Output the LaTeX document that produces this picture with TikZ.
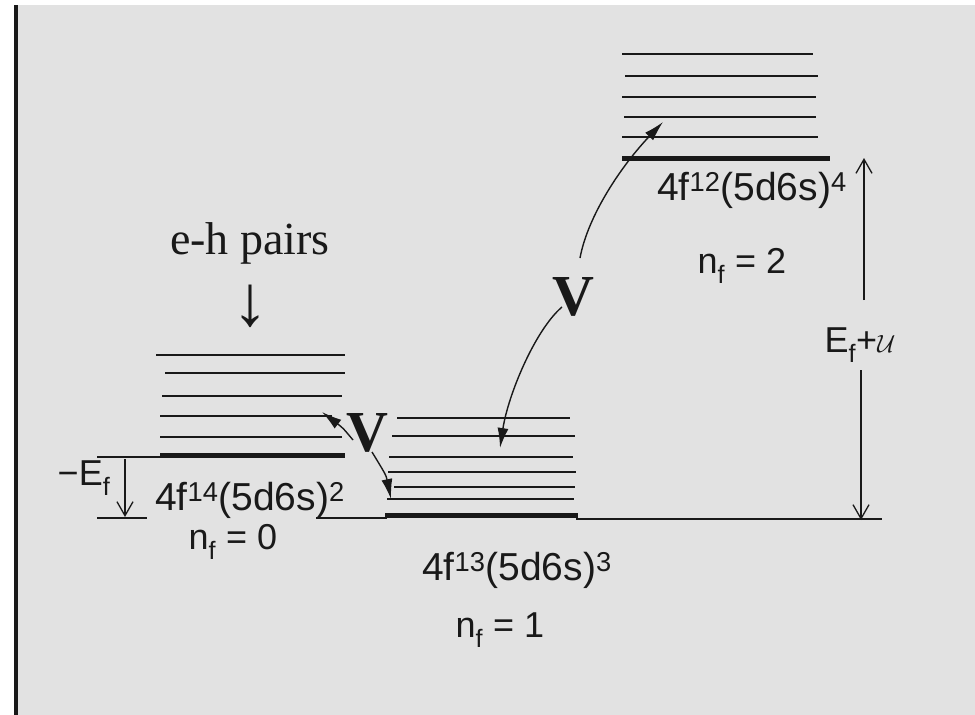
\documentclass[tikz,border=0pt]{standalone}
\usepackage{fontspec}
\setmainfont{Liberation Serif}
\newfontfamily\hand{Liberation Sans}
\usetikzlibrary{arrows.meta}
\definecolor{paper}{RGB}{226,226,226}
\definecolor{ink}{RGB}{25,25,25}
\begin{document}
\begin{tikzpicture}[x=1pt,y=-1pt,
  lvl/.style={ink, line width=1.6pt},
  gnd/.style={ink, line width=5pt},
  refline/.style={ink, line width=1.3pt},
  hw/.style={ink, font=\hand\fontsize{39}{44}\selectfont, inner sep=0pt},
  hwn/.style={ink, font=\hand\fontsize{36}{42}\selectfont, inner sep=0pt},
  vlab/.style={ink, font=\bfseries\fontsize{58}{62}\selectfont, inner sep=0pt},
  varrow/.style={ink, line width=1.4pt, -{Latex[length=20pt,width=11pt]}},
  earrow/.style={ink, line width=1.3pt, -{Straight Barb[length=14pt,width=16pt]}}
]
\useasboundingbox (0,0) rectangle (975,715);
\fill[white] (0,0) rectangle (975,715);
\fill[paper] (17,5) rectangle (975,715);
\fill[ink] (14,5) rectangle (18,715);

% left group (n_f = 0)
\foreach \y/\a/\b in {355/156/345, 373/165/345, 396/162/342, 416/160/332, 437/160/342}
  \draw[lvl] (\a,\y) -- (\b,\y);
\draw[gnd] (160,455) -- (345,455);

% middle group (n_f = 1)
\foreach \y/\a/\b in {418/397/570, 436/392/575, 457/389/573, 472/388/576, 487/394/575, 499/387/574}
  \draw[lvl] (\a,\y) -- (\b,\y);
\draw[gnd] (385,515) -- (578,515);

% right group (n_f = 2)
\foreach \y/\a/\b in {54/622/813, 76/625/818, 97/622/816, 117/624/816, 137/622/818}
  \draw[lvl] (\a,\y) -- (\b,\y);
\draw[gnd] (622,158) -- (830,158);

% reference lines
\draw[refline] (97,457) -- (162,457);
\draw[refline] (97,518) -- (147,518);
\draw[refline] (316,518) -- (387,518);
\draw[refline] (576,519) -- (882,519);

% coordinates for arrows
\coordinate (ef1) at (125,459);
\coordinate (ef2) at (125,517);
\coordinate (uup1) at (864,300);
\coordinate (uup2) at (864,158);
\coordinate (udn1) at (861,370);
\coordinate (udn2) at (861,520);
\coordinate (a1s) at (353,440);
\coordinate (a1e) at (322,412);
\coordinate (a2s) at (372,452);
\coordinate (a2e) at (391,499);
\coordinate (a3s) at (562,307);
\coordinate (a3e) at (500,448);
\coordinate (a4s) at (580,258);
\coordinate (a4e) at (663,122);

\draw[earrow] (ef1) -- (ef2);
\draw[earrow] (uup1) -- (uup2);
\draw[earrow] (udn1) -- (udn2);

\draw[varrow] (a1s) .. controls (343,428) .. (a1e);
\draw[varrow] (a2s) .. controls (386,475) .. (a2e);
\draw[varrow] (a3s) .. controls (535,330) and (508,395) .. (a3e);
\draw[varrow] (a4s) .. controls (588,215) and (622,165) .. (a4e);

% labels
\node[ink, font=\fontsize{46}{50}\selectfont, inner sep=0pt] (eh) at (250,243) {e-h pairs};
\node[ink, font=\fontsize{72}{76}\selectfont, inner sep=0pt] (ehar) at (250,306) {↓};

\node[vlab] (v1) at (367,433) {V};
\node[vlab] (v2) at (573,297) {V};

\node[hw] (c0) at (250,500) {4f\textsuperscript{14}(5d6s)\textsuperscript{2}};
\node[hwn] (n0) at (233,542) {n\textsubscript{f} = 0};
\node[hw] (c1) at (517,570) {4f\textsuperscript{13}(5d6s)\textsuperscript{3}};
\node[hwn] (n1) at (500,630) {n\textsubscript{f} = 1};
\node[hw] (c2) at (752,190) {4f\textsuperscript{12}(5d6s)\textsuperscript{4}};
\node[hwn] (n2) at (742,266) {n\textsubscript{f} = 2};
\node[hwn] (efu) at (860,345) {E\textsubscript{f}+{\fontsize{46}{50}\selectfont$\mathcal{U}$}};
\node[hwn] (mef) at (84,478) {−E\textsubscript{f}};
\end{tikzpicture}
\end{document}
